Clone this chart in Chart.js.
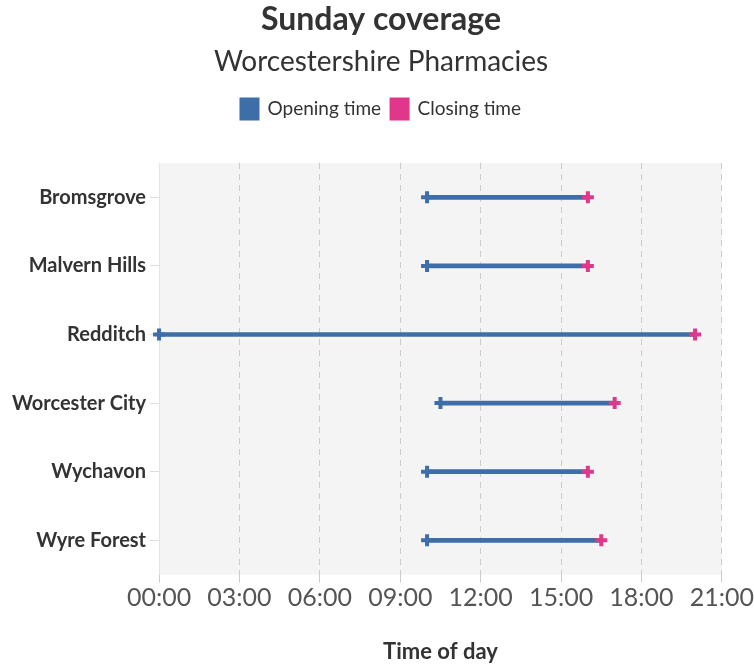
<!DOCTYPE html>
<html>
<head>
<meta charset="utf-8">
<script src="https://cdn.jsdelivr.net/npm/chart.js@4"></script>
<style>
  body { margin: 0; background: #fff; }
  #wrap { width: 754px; height: 668px; }
</style>
</head>
<body>
<div id="wrap"><canvas id="sundayChart"></canvas></div>
<script>
const districts = ['Bromsgrove', 'Malvern Hills', 'Redditch', 'Worcester City', 'Wychavon', 'Wyre Forest'];
const openingHours = [10, 10, 0, 10.5, 10, 10];
const closingHours = [16, 16, 20, 17, 16, 16.5];
const hourTicks = [0, 3, 6, 9, 12, 15, 18, 21];

const blue = '#3d6ea8';
const pink = '#e0378a';

// grey panel behind the plot
const plotBackground = {
  id: 'plotBackground',
  beforeDraw(chart) {
    const { ctx, chartArea } = chart;
    ctx.save();
    ctx.fillStyle = '#f4f4f4';
    ctx.fillRect(chartArea.left, chartArea.top, chartArea.right - chartArea.left, chartArea.bottom - chartArea.top);
    ctx.restore();
  }
};

// extra room under the legend
const legendGap = {
  id: 'legendGap',
  beforeInit(chart) {
    const fit = chart.legend.fit;
    chart.legend.fit = function () {
      fit.bind(chart.legend)();
      this.height += 34;
    };
  }
};

function toClock(v) {
  return String(v).padStart(2, '0') + ':00';
}

const ctx = document.getElementById('sundayChart').getContext('2d');

new Chart(ctx, {
  type: 'bar',
  data: {
    labels: districts,
    datasets: [
      {
        label: 'range',
        type: 'bar',
        data: districts.map((d, i) => [openingHours[i], closingHours[i]]),
        backgroundColor: blue,
        barThickness: 4,
        order: 3
      },
      {
        label: 'Opening time',
        type: 'line',
        data: districts.map((d, i) => ({ x: openingHours[i], y: d })),
        showLine: false,
        clip: false,
        pointStyle: 'cross',
        pointRadius: 6,
        pointBorderWidth: 4,
        borderColor: blue,
        backgroundColor: blue,
        order: 2
      },
      {
        label: 'Closing time',
        type: 'line',
        data: districts.map((d, i) => ({ x: closingHours[i], y: d })),
        showLine: false,
        clip: false,
        pointStyle: 'cross',
        pointRadius: 6,
        pointBorderWidth: 4,
        borderColor: pink,
        backgroundColor: pink,
        order: 1
      }
    ]
  },
  options: {
    indexAxis: 'y',
    responsive: true,
    maintainAspectRatio: false,
    animation: false,
    layout: { padding: { left: 8, right: 0, top: 0, bottom: 3 } },
    plugins: {
      title: {
        display: true,
        text: 'Sunday coverage',
        color: '#333',
        font: { family: 'Lato', size: 32, weight: 'bold' },
        padding: { top: 0, bottom: 7 }
      },
      subtitle: {
        display: true,
        text: 'Worcestershire Pharmacies',
        color: '#333',
        font: { family: 'Lato', size: 28 },
        padding: { top: 0, bottom: 10 }
      },
      legend: {
        labels: {
          filter: item => item.text !== 'range',
          sort: (a, b) => a.datasetIndex - b.datasetIndex,
          boxWidth: 17,
          boxHeight: 20,
          color: '#333',
          font: { family: 'Lato', size: 19 },
          padding: 10
        }
      },
      tooltip: { enabled: false }
    },
    scales: {
      x: {
        type: 'linear',
        min: 0,
        max: 21,
        afterBuildTicks: axis => { axis.ticks = hourTicks.map(v => ({ value: v })); },
        ticks: {
          callback: v => toClock(v),
          color: '#555',
          font: { family: 'Lato', size: 25 },
          padding: 0
        },
        grid: { color: '#cccccc', lineWidth: 1, tickLength: 8 },
        border: { display: false, dash: [6, 5] },
        title: {
          display: true,
          text: 'Time of day',
          color: '#333',
          font: { family: 'Lato', size: 22, weight: 'bold' },
          padding: { top: 26, bottom: 0 }
        }
      },
      y: {
        type: 'category',
        ticks: {
          color: '#333',
          font: { family: 'Lato', size: 20, weight: 'bold' },
          padding: 4
        },
        grid: { drawOnChartArea: false, offset: false, color: '#dddddd', tickLength: 9 },
        border: { display: true, color: '#e4e4e4' }
      }
    }
  },
  plugins: [plotBackground, legendGap]
});
</script>
</body>
</html>
